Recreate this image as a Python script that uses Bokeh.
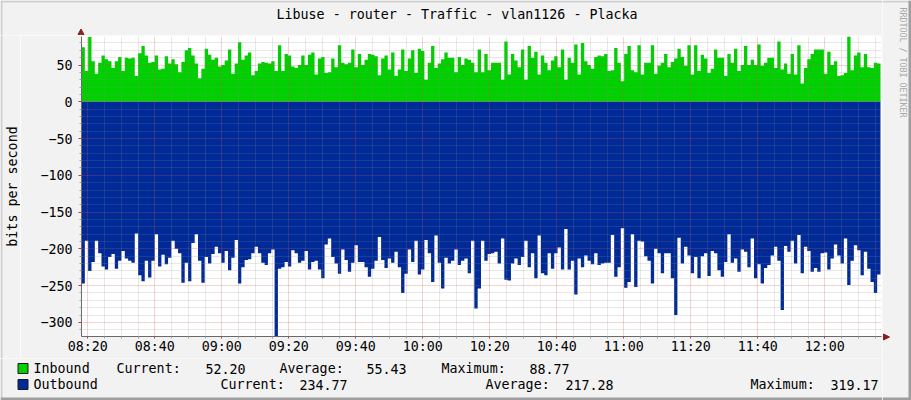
import math
import numpy as np
import pandas as pd
from bokeh.plotting import figure
from bokeh.layouts import row, column
from bokeh.models import Range1d, FixedTicker, DatetimeTickFormatter
from bokeh.core.properties import value
from bokeh.embed import file_html
from bokeh.resources import INLINE

# ---------------- data ----------------
TITLE = "Libuse - router - Traffic - vlan1126 - Placka"
Y_LABEL = "bits per second"
WATERMARK = "RRDTOOL / TOBI OETIKER"
X_START = "2024-01-01 08:18:07"
DATA_END = "2024-01-01 12:16:37"
X_END = "2024-01-01 12:16:55"
Y_MIN, Y_MAX = -319.17, 88.77
Y_TICKS = [-300, -250, -200, -150, -100, -50, 0, 50]

inbound = [
    74, 42, 88, 55, 38, 53, 63, 58, 55, 46, 55, 61, 42, 60, 59, 60, 35, 66, 76, 63,
    53, 54, 63, 44, 45, 62, 52, 58, 51, 40, 54, 70, 73, 63, 52, 32, 45, 72, 64, 57,
    60, 48, 50, 56, 71, 38, 52, 81, 57, 63, 67, 36, 42, 52, 54, 53, 52, 55, 42, 77,
    42, 65, 63, 48, 46, 50, 63, 50, 64, 67, 37, 59, 61, 39, 40, 59, 47, 77, 53, 51,
    53, 71, 47, 65, 50, 57, 65, 64, 62, 36,
    59, 63, 44, 67, 35, 44, 71, 42, 59, 70, 39, 72, 69, 30, 53, 76, 46, 52, 58, 67,
    60, 60, 40, 61, 50, 59, 57, 53, 40, 71, 40, 65, 43, 53, 53, 53, 30, 82, 37, 65,
    56, 47, 71, 30, 76, 60, 68, 37, 63, 53, 43, 56, 62, 47, 71, 30, 60, 53, 78, 37,
    80, 55, 50, 45, 61, 63, 62, 65, 42, 43, 73, 53, 28, 65, 76, 43, 40, 77, 37, 53,
    53, 77, 38, 49, 53, 65, 47, 54, 59, 72,
    61, 49, 77, 37, 77, 42, 64, 59, 39, 45, 71, 60, 60, 35, 65, 53, 72, 42, 50, 76,
    50, 57, 50, 78, 49, 53, 60, 60, 46, 82, 44, 52, 38, 65, 37, 77, 25, 46, 58, 65,
    71, 71, 71, 38, 68, 50, 55, 35, 36, 39, 88.77, 43, 63, 67, 47, 65, 47, 46, 53, 52.2,
]

outbound = [
    247, 189, 230, 218, 189, 206, 224, 228, 211, 207, 227, 216, 203, 213, 216, 219, 179, 236, 244, 216,
    239, 216, 180, 224, 208, 221, 212, 189, 200, 206, 246, 219, 244, 192, 180, 216, 246, 211, 220, 207,
    197, 206, 219, 203, 229, 212, 188, 247, 225, 215, 214, 206, 197, 206, 219, 222, 206, 201, 319.17, 227,
    225, 218, 224, 202, 206, 219, 216, 203, 228, 218, 216, 228, 240, 194, 186, 211, 220, 234, 201, 215,
    231, 219, 195, 218, 218, 225, 238, 227, 216, 184,
    215, 226, 213, 219, 204, 225, 260, 234, 201, 218, 189, 235, 228, 188, 206, 245, 182, 219, 254, 212,
    220, 216, 201, 222, 216, 213, 233, 189, 281, 254, 189, 216, 207, 206, 204, 220, 186, 242, 243, 220,
    213, 222, 211, 189, 225, 206, 240, 182, 233, 236, 206, 227, 206, 198, 228, 173, 228, 216, 262, 213,
    225, 209, 216, 221, 206, 222, 220, 219, 219, 181, 238, 225, 172, 253, 245, 180, 252, 189, 190, 210,
    216, 247, 200, 206, 233, 206, 206, 240, 290, 185,
    220, 197, 209, 233, 211, 240, 210, 206, 237, 203, 206, 229, 238, 218, 180, 219, 213, 231, 201, 204,
    225, 186, 240, 221, 247, 226, 222, 209, 197, 216, 283, 196, 204, 189, 220, 181, 233, 197, 203, 231,
    226, 231, 206, 205, 228, 213, 194, 209, 220, 186, 249, 216, 195, 202, 236, 204, 227, 245, 260, 234.77,
]

legend_inbound = ["Inbound", "Current:", "52.20", "Average:", "55.43", "Maximum:", "88.77"]
legend_outbound = ["Outbound", "Current:", "234.77", "Average:", "217.28", "Maximum:", "319.17"]

# ---------------- styles ----------------
GREEN = "#00CF00"
BLUE = "#002A97"
BG = "#F2F2F2"
SHADE_A = "#CFCFCF"
SHADE_B = "#9E9E9E"
FONT = "DejaVu Sans Mono"
FS = "13.33px"
ARROW = "#8B1F1F"
AXIS = "#6A6A6A"

TOTAL_W, TOTAL_H = 911, 400
LEFT_W, RIGHT_W = 20, 29
TOP_H, LEG_H = 35, 42
MAIN_W = TOTAL_W - LEFT_W - RIGHT_W
MAIN_H = TOTAL_H - TOP_H - LEG_H
INNER_W = LEFT_W + MAIN_W


def strip(w, h):
    """A figure whose data coordinates are its own pixels (y downwards)."""
    f = figure(width=w, height=h, x_range=Range1d(0, w), y_range=Range1d(h, 0),
               output_backend="svg", toolbar_location=None,
               min_border=0, min_border_left=0, min_border_right=0,
               min_border_top=0, min_border_bottom=0)
    f.axis.visible = False
    f.grid.visible = False
    f.background_fill_color = BG
    f.border_fill_color = BG
    f.outline_line_color = None
    return f


def txt(f, x, y, s, size=FS, color="black", angle=0.0, align="left"):
    f.text(x=[x], y=[y], text=[s], text_font=value(FONT), text_font_size=value(size),
           text_color=color, angle=angle, text_align=align, text_baseline="middle")


# ---------------- main plot ----------------
t0, t1 = pd.Timestamp(X_START), pd.Timestamp(X_END)
p = figure(width=MAIN_W, height=MAIN_H, x_axis_type="datetime", output_backend="svg",
           toolbar_location=None, x_range=Range1d(t0, t1), y_range=Range1d(Y_MIN, Y_MAX),
           min_border_left=61, min_border_right=1, min_border_top=1, min_border_bottom=22)
p.background_fill_color = "white"
p.border_fill_color = BG
p.outline_line_color = None

n = len(inbound)
edges = pd.date_range(t0, pd.Timestamp(DATA_END), periods=n + 1).values
xs = np.repeat(edges, 2)[1:-1]
p.varea(x=xs, y1=0, y2=np.repeat(np.array(inbound, float), 2), fill_color=GREEN)
p.varea(x=xs, y1=0, y2=-np.repeat(np.array(outbound, float), 2), fill_color=BLUE)


def ms(ts):
    return (pd.Timestamp(ts) - pd.Timestamp("1970-01-01")) / pd.Timedelta(milliseconds=1)


x_major = list(pd.date_range(t0.ceil("20min"), t1, freq="20min"))
x_minor = [t for t in pd.date_range(t0.ceil("5min"), t1, freq="5min") if t not in x_major]
xticker = FixedTicker(ticks=[ms(t) for t in x_major], minor_ticks=[ms(t) for t in x_minor])
y_minor = [v for v in range(-310, 90, 10) if v not in Y_TICKS]
yticker = FixedTicker(ticks=Y_TICKS, minor_ticks=y_minor)

p.xaxis.ticker = xticker
p.yaxis.ticker = yticker
p.xgrid.ticker = xticker
p.ygrid.ticker = yticker
p.xaxis.formatter = DatetimeTickFormatter(minutes="%H:%M", hourmin="%H:%M", hours="%H:%M",
                                          minsec="%H:%M", seconds="%H:%M", days="%H:%M")

for g in (p.xgrid[0], p.ygrid[0]):
    g.grid_line_color = "#DE4F4F"
    g.grid_line_alpha = 0.5
    g.grid_line_dash = "1 1"
    g.grid_line_width = 1
    g.minor_grid_line_color = "#8F8F8F"
    g.minor_grid_line_alpha = 0.4
    g.minor_grid_line_dash = "1 1"
    g.level = "overlay"

for ax in (p.xaxis[0], p.yaxis[0]):
    ax.axis_line_color = AXIS
    ax.major_tick_line_color = "#B04040"
    ax.minor_tick_line_color = "#A0A0A0"
    ax.major_tick_in = 0
    ax.minor_tick_in = 0
    ax.minor_tick_out = 2
    ax.major_label_text_font = FONT
    ax.major_label_text_font_size = FS
    ax.major_label_text_color = "black"
p.yaxis.major_tick_out = 3
p.yaxis.major_label_standoff = 6
p.xaxis.major_tick_out = 2
p.xaxis.major_label_standoff = 0

# ---------------- strips around the plot ----------------
top = strip(INNER_W, TOP_H)
txt(top, 276, 14, TITLE)
top.quad(left=0, right=INNER_W, top=0, bottom=2, fill_color=SHADE_A, line_color=None)
top.quad(left=0, right=2, top=0, bottom=TOP_H, fill_color=SHADE_A, line_color=None)
ax_x = 80.5
top.patch(x=[ax_x - 3, ax_x + 3, ax_x], y=[34, 34, 28.5], fill_color=ARROW, line_color=ARROW)
top.segment(x0=[ax_x], y0=[33], x1=[ax_x], y1=[TOP_H], line_color=AXIS)

left = strip(LEFT_W, MAIN_H)
txt(left, 11.5, 186 - TOP_H, Y_LABEL, angle=math.pi / 2, align="center")
left.quad(left=0, right=2, top=0, bottom=MAIN_H, fill_color=SHADE_A, line_color=None)

right = strip(RIGHT_W, TOTAL_H)
rx0 = TOTAL_W - RIGHT_W
txt(right, 902.5 - rx0, 62, WATERMARK, size="8.3px", color="#A8A8A8",
    angle=-math.pi / 2, align="center")
right.quad(left=0, right=RIGHT_W, top=0, bottom=2, fill_color=SHADE_A, line_color=None)
right.quad(left=RIGHT_W - 3, right=RIGHT_W, top=0, bottom=TOTAL_H, fill_color=SHADE_B, line_color=None)
right.quad(left=0, right=RIGHT_W, top=TOTAL_H - 3, bottom=TOTAL_H, fill_color=SHADE_B, line_color=None)
ay = 336.5
right.segment(x0=[0], y0=[ay], x1=[2], y1=[ay], line_color=AXIS)
right.patch(x=[883 - rx0, 883 - rx0, 889 - rx0], y=[ay - 3, ay + 3, ay], fill_color=ARROW, line_color=ARROW)

leg = strip(INNER_W, LEG_H)
ly0 = TOP_H + MAIN_H
row1_x = [33, 116, 205, 279, 366, 441, 529]
row2_x = [33, 220, 299, 485, 565, 750, 830]
for t, x in zip(legend_inbound, row1_x):
    txt(leg, x, 368 - ly0, t)
for t, x in zip(legend_outbound, row2_x):
    txt(leg, x, 384 - ly0, t)
leg.quad(left=[17.5, 17.5], right=[27.5, 27.5], top=[363 - ly0, 379 - ly0],
         bottom=[373 - ly0, 389 - ly0], fill_color=[GREEN, BLUE], line_color="#1A1A1A")
leg.quad(left=0, right=2, top=0, bottom=LEG_H, fill_color=SHADE_A, line_color=None)
leg.quad(left=0, right=INNER_W, top=LEG_H - 3, bottom=LEG_H, fill_color=SHADE_B, line_color=None)

layout = row(column(top, row(left, column(p)), leg), right)

open("out.html", "w").write(file_html(layout, INLINE))
